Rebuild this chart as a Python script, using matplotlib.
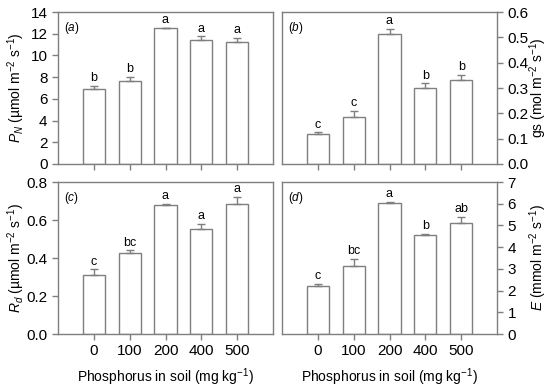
import matplotlib
matplotlib.use("Agg")
import matplotlib.pyplot as plt
import numpy as np

plt.rcParams['font.family'] = ['Liberation Sans', 'DejaVu Sans']
plt.rcParams['mathtext.fontset'] = 'custom'
plt.rcParams['mathtext.rm'] = 'Liberation Sans'
plt.rcParams['mathtext.it'] = 'Liberation Sans:italic'

categories = ['0', '100', '200', '400', '500']

pn = [6.9, 7.6, 12.5, 11.45, 11.2]
pn_err = [0.3, 0.4, 0.05, 0.3, 0.4]
pn_let = ['b', 'b', 'a', 'a', 'a']

gs = [0.118, 0.185, 0.513, 0.300, 0.333]
gs_err = [0.007, 0.025, 0.02, 0.018, 0.018]
gs_let = ['c', 'c', 'a', 'b', 'b']

rd = [0.31, 0.425, 0.68, 0.555, 0.685]
rd_err = [0.03, 0.015, 0.005, 0.025, 0.035]
rd_let = ['c', 'bc', 'a', 'a', 'a']

ev = [2.2, 3.12, 6.02, 4.55, 5.1]
ev_err = [0.12, 0.35, 0.05, 0.06, 0.3]
ev_let = ['c', 'bc', 'a', 'b', 'ab']

W, H = 550, 389
fig = plt.figure(figsize=(W / 100, H / 100), dpi=100)

def rect(l, t, r, b):
    return [l / W, 1 - b / H, (r - l) / W, (b - t) / H]

gray = '#7f7f7f'
panels = [
    (rect(58, 12, 273, 164), pn, pn_err, pn_let, (0, 14), np.arange(0, 15, 2), '{:.0f}', 'left', False,
     r'$P_N$ (µmol m$^{-2}$ s$^{-1}$)', 'a'),
    (rect(282, 12, 497, 164), gs, gs_err, gs_let, (0, 0.6), np.arange(0, 0.61, 0.1), '{:.1f}', 'right', False,
     r'gs (mol m$^{-2}$ s$^{-1}$)', 'b'),
    (rect(58, 182, 273, 334), rd, rd_err, rd_let, (0, 0.8), np.arange(0, 0.81, 0.2), '{:.1f}', 'left', True,
     r'$R_d$ (µmol m$^{-2}$ s$^{-1}$)', 'c'),
    (rect(282, 182, 497, 334), ev, ev_err, ev_let, (0, 7), np.arange(0, 8, 1), '{:.0f}', 'right', True,
     r'$E$ (mmol m$^{-2}$ s$^{-1}$)', 'd'),
]

x = np.arange(1, len(categories) + 1)
for pos, vals, errs, lets, ylim, yt, fmt, side, xlab, ylab, tag in panels:
    ax = fig.add_axes(pos)
    ax.bar(x, vals, width=0.62, color='white', edgecolor=gray, linewidth=1.0, zorder=2)
    ax.errorbar(x, vals, yerr=[np.zeros(len(vals)), errs], fmt='none', ecolor=gray,
                elinewidth=1.0, capsize=3, capthick=1.0, zorder=3)
    rng = ylim[1] - ylim[0]
    for xi, v, e, l in zip(x, vals, errs, lets):
        ax.text(xi, v + e + rng * 0.012, l, ha='center', va='bottom', fontsize=9)
    ax.set_xlim(0, 6)
    ax.set_ylim(*ylim)
    ax.set_yticks(yt)
    ax.set_yticklabels([fmt.format(t) for t in yt])
    ax.set_xticks(x)
    if xlab:
        ax.set_xticklabels(categories)
        ax.set_xlabel('Phosphorus in soil (mg kg$^{-1}$)', fontsize=10, labelpad=6)
    else:
        ax.set_xticklabels([])
    if side == 'right':
        ax.yaxis.tick_right()
        ax.yaxis.set_label_position('right')
        ax.set_ylabel(ylab, fontsize=10, rotation=90, va='center', ha='center')
        ax.yaxis.set_label_coords((538 - 282) / 215, 0.5)
    else:
        ax.set_ylabel(ylab, fontsize=10, rotation=90, va='center', ha='center')
        ax.yaxis.set_label_coords((16 - 58) / 215, 0.5)
    for s in ax.spines.values():
        s.set_color(gray)
        s.set_linewidth(1.0)
    ax.tick_params(axis='both', colors=gray, labelcolor='black', labelsize=11, length=4, width=1.0)
    ax.text(0.03, 0.95, '(' + r'$\mathit{' + tag + '}$' + ')', transform=ax.transAxes,
            fontsize=8.5, va='top', ha='left')

fig.savefig('out.png', dpi=100)
